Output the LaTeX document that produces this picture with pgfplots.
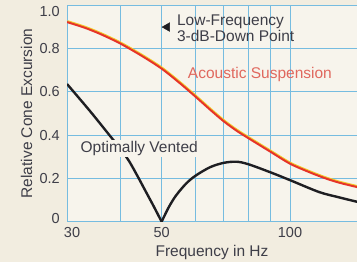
\documentclass[border=0pt]{standalone}
\usepackage{pgfplots}
\pgfplotsset{compat=1.18}
\usepackage{fontspec}
\setmainfont{Liberation Sans}
\definecolor{outerbg}{RGB}{242,237,224}
\definecolor{plotbg}{RGB}{247,244,236}
\definecolor{gridc}{RGB}{118,188,224}
\definecolor{txt}{RGB}{62,62,72}
\definecolor{redc}{RGB}{230,52,40}
\definecolor{yel}{RGB}{242,200,40}
\definecolor{pinkt}{RGB}{224,104,94}
\definecolor{blk}{RGB}{30,30,34}
\begin{document}
\begin{tikzpicture}
\fill[outerbg] (0,0) rectangle (357pt,262pt);
\begin{axis}[
  at={(67pt,40.3pt)}, anchor=south west,
  scale only axis, width=290pt, height=216.5pt,
  xmode=log, xmin=30, xmax=143.6, ymin=0, ymax=1,
  axis lines=left, axis line style={-, draw=gridc, line width=1pt},
  axis background/.style={fill=plotbg},
  xtick={30,50,100}, xticklabels={{\hspace{10pt}30},50,100},
  minor xtick={40,60,70,80,90},
  ytick={0,0.2,0.4,0.6,0.8,1.0},
  yticklabels={\raisebox{3.7pt}{0},0.2,0.4,0.6,0.8,\raisebox{-6.5pt}{1.0}},
  major tick length=0pt, minor tick length=0pt,
  xmajorgrids, xminorgrids, ymajorgrids,
  grid style={draw=gridc, line width=0.9pt},
  minor grid style={draw=gridc, line width=0.9pt},
  tick label style={font=\fontsize{14.5}{16}\selectfont, text=txt, inner sep=0pt},
  xticklabel style={anchor=base, yshift=-15.4pt},
  yticklabel style={anchor=base east, xshift=-7pt, yshift=-5.2pt},
  xlabel={Frequency in Hz}, ylabel={Relative Cone Excursion},
  label style={font=\fontsize{15.5}{17}\selectfont, text=txt},
  xlabel style={at={(axis description cs:0.5,-0.14)}, anchor=center},
  ylabel style={at={(axis description cs:-0.139,0.5)}, anchor=center},
  clip=true,
]
% Acoustic suspension (red with yellow edge)
\addplot[yel, line width=1.6pt, smooth, yshift=1.1pt, xshift=0.5pt] coordinates {
(30,0.922) (33,0.896) (36,0.866) (40,0.823) (45,0.765) (50,0.707) (55,0.642)
(60,0.578) (65,0.517) (70,0.463) (75,0.420) (80,0.385) (90,0.323) (100,0.268)
(110,0.232) (120,0.203) (130,0.181) (143.6,0.160)};
\addplot[redc, line width=2pt, smooth] coordinates {
(30,0.922) (33,0.896) (36,0.866) (40,0.823) (45,0.765) (50,0.707) (55,0.642)
(60,0.578) (65,0.517) (70,0.463) (75,0.420) (80,0.385) (90,0.323) (100,0.268)
(110,0.232) (120,0.203) (130,0.181) (143.6,0.160)};
% Optimally vented
\addplot[blk, line width=2.4pt, smooth, line join=round] coordinates {
(30,0.636) (34,0.510) (38,0.392) (40,0.338) (42,0.278) (44,0.207) (46,0.136)
(48,0.068) (50,0.0)};
\addplot[blk, line width=2.4pt, smooth, line join=round] coordinates {
(50,0.0) (52,0.068) (54,0.120) (57,0.175) (60,0.212) (65,0.252) (70,0.272)
(75,0.277) (80,0.265) (90,0.228) (100,0.192) (117,0.137) (130,0.113) (143.6,0.092)};
% 3-dB-down marker
\addplot[only marks, mark=triangle*, mark size=5pt, mark options={rotate=90, fill=blk, draw=blk}] coordinates {(51.5,0.899)};
\node[anchor=west, align=left, inner sep=0pt, text=txt, font=\fontsize{15.5}{16}\selectfont]
  at (axis cs:54.3,0.893) {Low-Frequency\\3-dB-Down Point};
\node[inner sep=0pt, text=pinkt, font=\fontsize{15.5}{17}\selectfont]
  at (axis cs:85,0.682) {Acoustic Suspension};
\node[inner sep=1.5pt, fill=plotbg, text=txt, font=\fontsize{15.5}{17}\selectfont]
  at (axis cs:44.3,0.339) {Optimally Vented};
\end{axis}
\pgfresetboundingbox
\useasboundingbox (0,0) rectangle (357pt,262pt);
\end{tikzpicture}
\end{document}
